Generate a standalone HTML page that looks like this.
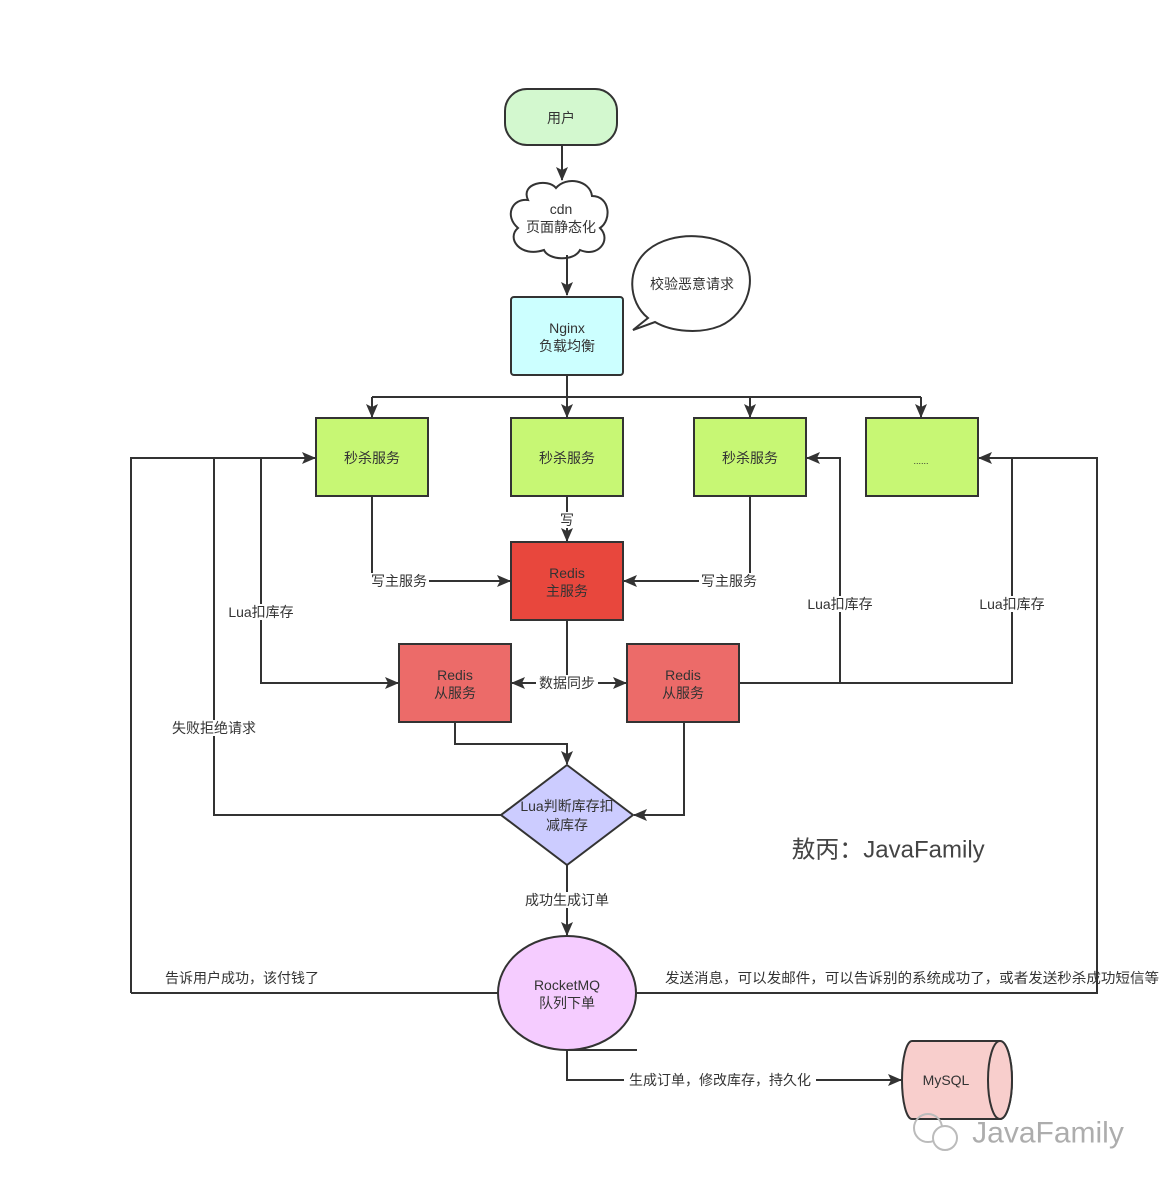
<!DOCTYPE html>
<html><head><meta charset="utf-8"><style>
html,body{margin:0;padding:0;background:#fff;}
svg{display:block;}
text{font-family:"Liberation Sans","Noto Sans CJK SC",sans-serif;font-size:14px;fill:#333;text-anchor:middle;dominant-baseline:central;}
.l{fill:none;stroke:#333;stroke-width:2;}
.b{stroke:#333;stroke-width:2;}
.lb{fill:#fff;}
</style></head><body>
<svg width="1172" height="1178" viewBox="0 0 1172 1178" xmlns="http://www.w3.org/2000/svg">
<defs><marker id="a" markerWidth="14" markerHeight="14" refX="13" refY="7" orient="auto" markerUnits="userSpaceOnUse"><path d="M0,1 L14,7 L0,13 L3,7 z" fill="#333"/></marker>
<marker id="s" markerWidth="14" markerHeight="14" refX="1" refY="7" orient="auto" markerUnits="userSpaceOnUse"><path d="M14,1 L0,7 L14,13 L11,7 z" fill="#333"/></marker></defs>

<rect x="505" y="89" width="112" height="56" rx="22" fill="#d3f8cf" class="b"/>
<text x="561" y="118">用户</text>
<path class="l" d="M562,145 V180" marker-end="url(#a)"/>
<path d="M528,200 C520,183 548,178 556,188 C566,176 590,180 592,196 C610,196 612,220 600,228 C612,240 598,258 580,250 C574,262 548,260 544,250 C520,258 506,238 518,228 C504,216 512,198 528,200 Z" fill="#fff" class="b"/>
<text x="561" y="209">cdn</text><text x="561" y="227">页面静态化</text>
<path class="l" d="M567,255 V295" marker-end="url(#a)"/>
<path d="M648,318 C628,302 626,268 648,250 C672,230 720,232 740,254 C760,276 748,314 720,326 C700,334 672,332 655,322 L633,330 Z" fill="#fff" class="b"/>
<text x="692" y="284">校验恶意请求</text>
<rect x="511" y="297" width="112" height="78" rx="3" fill="#ccffff" class="b"/>
<text x="567" y="328">Nginx</text><text x="567" y="346">负载均衡</text>
<path class="l" d="M567,375 V397 M372,397 H921"/>
<path class="l" d="M372,397 V417" marker-end="url(#a)"/>
<path class="l" d="M567,397 V417" marker-end="url(#a)"/>
<path class="l" d="M750,397 V417" marker-end="url(#a)"/>
<path class="l" d="M921,397 V417" marker-end="url(#a)"/>
<rect x="316" y="418" width="112" height="78" fill="#c7f774" class="b"/><text x="372" y="458">秒杀服务</text>
<rect x="511" y="418" width="112" height="78" fill="#c7f774" class="b"/><text x="567" y="458">秒杀服务</text>
<rect x="694" y="418" width="112" height="78" fill="#c7f774" class="b"/><text x="750" y="458">秒杀服务</text>
<rect x="866" y="418" width="112" height="78" fill="#c7f774" class="b"/><text x="921" y="461" style="font-size:9px">......</text>
<path class="l" d="M567,496 V541" marker-end="url(#a)"/>
<rect x="559" y="512" width="16" height="16" class="lb"/><text x="567" y="520">写</text>
<path class="l" d="M372,496 V581 H510" marker-end="url(#a)"/>
<path class="l" d="M750,496 V581 H624" marker-end="url(#a)"/>
<rect x="369" y="573" width="60" height="16" class="lb"/><text x="399" y="581">写主服务</text>
<rect x="699" y="573" width="60" height="16" class="lb"/><text x="729" y="581">写主服务</text>
<rect x="511" y="542" width="112" height="78" fill="#e8473d" class="b"/>
<text x="567" y="573">Redis</text><text x="567" y="591">主服务</text>
<path class="l" d="M567,620 V683"/>
<path class="l" d="M512,683 H626" marker-start="url(#s)" marker-end="url(#a)"/>
<rect x="536" y="675" width="62" height="16" class="lb"/><text x="567" y="683">数据同步</text>
<rect x="399" y="644" width="112" height="78" fill="#ec6b69" class="b"/><text x="455" y="675">Redis</text><text x="455" y="693">从服务</text>
<rect x="627" y="644" width="112" height="78" fill="#ec6b69" class="b"/><text x="683" y="675">Redis</text><text x="683" y="693">从服务</text>
<path class="l" d="M131,993 V458 H315" marker-end="url(#a)"/>
<path class="l" d="M214,458 V815 H501"/>
<path class="l" d="M261,458 V683 H398" marker-end="url(#a)"/>
<rect x="226" y="604" width="70" height="16" class="lb"/><text x="261" y="612">Lua扣库存</text>
<rect x="168" y="720" width="92" height="16" class="lb"/><text x="214" y="728">失败拒绝请求</text>
<path class="l" d="M740,683 H1012 V458"/>
<path class="l" d="M840,683 V458 H807" marker-end="url(#a)"/>
<path class="l" d="M1012,458 H979" marker-end="url(#a)"/>
<path class="l" d="M1012,458 H1097 V993 H636"/>
<rect x="805" y="596" width="70" height="16" class="lb"/><text x="840" y="604">Lua扣库存</text>
<rect x="977" y="596" width="70" height="16" class="lb"/><text x="1012" y="604">Lua扣库存</text>
<path class="l" d="M455,722 V744 H567 V764" marker-end="url(#a)"/>
<path class="l" d="M684,722 V815 H634" marker-end="url(#a)"/>
<path d="M567,765 L633,815 L567,865 L501,815 Z" fill="#ccccff" class="b"/>
<text x="567" y="806">Lua判断库存扣</text><text x="567" y="825">减库存</text>
<path class="l" d="M567,865 V935" marker-end="url(#a)"/>
<rect x="521" y="892" width="92" height="16" class="lb"/><text x="567" y="900">成功生成订单</text>
<path class="l" d="M131,993 H498"/>
<text x="242" y="978">告诉用户成功，该付钱了</text>
<text x="912" y="978" textLength="494" lengthAdjust="spacingAndGlyphs">发送消息，可以发邮件，可以告诉别的系统成功了，或者发送秒杀成功短信等</text>
<ellipse cx="567" cy="993" rx="69" ry="57" fill="#f5ccff" class="b"/>
<text x="567" y="985">RocketMQ</text><text x="567" y="1003">队列下单</text>
<path class="l" d="M567,1050 H637"/>
<path class="l" d="M567,1050 V1080 H901" marker-end="url(#a)"/>
<rect x="624" y="1072" width="192" height="16" class="lb"/><text x="720" y="1080">生成订单，修改库存，持久化</text>
<path d="M912,1041 H1000 A12,39 0 0 1 1000,1119 H912 A10,39 0 0 1 912,1041 Z" fill="#f8cecc" class="b"/>
<ellipse cx="1000" cy="1080" rx="12" ry="39" fill="#f8cecc" class="b"/>
<text x="946" y="1080">MySQL</text>
<text x="888" y="850" style="font-size:24px;fill:#444">敖丙：JavaFamily</text>
<text x="1048" y="1133" style="font-size:30px;fill:#999;opacity:.8">JavaFamily</text>
<circle cx="928" cy="1128" r="14" fill="none" stroke="#bbb" stroke-width="2"/>
<circle cx="945" cy="1138" r="12" fill="#fff" stroke="#bbb" stroke-width="2"/>
</svg>
</body></html>
